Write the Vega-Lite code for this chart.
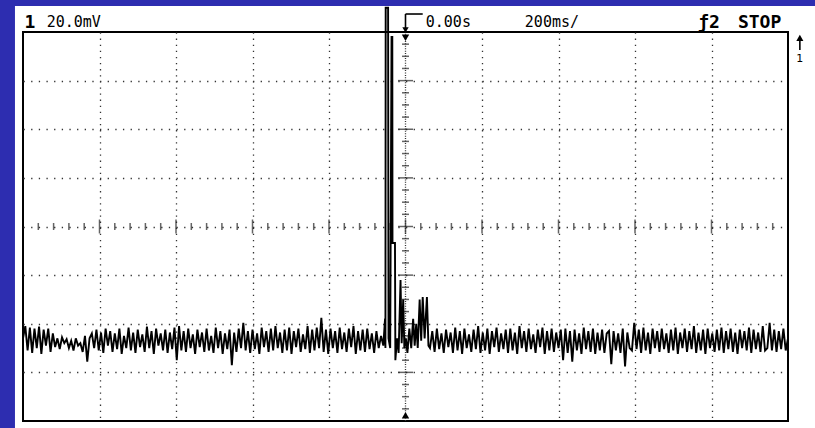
{
"$schema":"https://vega.github.io/schema/vega-lite/v6.json",
"width":765,"height":389,
"autosize":{"type":"none"},
"padding":{"left":23,"top":32,"right":27,"bottom":7},
"background":"white",
"config":{"view":{"stroke":"black","strokeWidth":2}},
"encoding":{
"x":{"field":"t","type":"quantitative","scale":{"domain":[-1000,1000],"nice":false,"zero":false},"axis":{"values":[-800,-600,-400,-200,200,400,600,800],"grid":true,"gridDash":[1.3,4.8],"gridColor":"#333","gridWidth":1.3,"labels":false,"ticks":false,"domain":false,"title":null}},
"y":{"field":"v","type":"quantitative","scale":{"domain":[-4,4],"nice":false,"zero":false},"axis":{"values":[-3,-2,-1,0,1,2,3],"grid":true,"gridDash":[1.3,6.35],"gridColor":"#333","gridWidth":1.3,"labels":false,"ticks":false,"domain":false,"title":null}}
},
"layer":[
{"data":{"values":[{"t":-1100,"t2":-1021,"v":-4.6,"v2":5.2},{"t":-1100,"t2":1100,"v":4.535,"v2":5.2}]},
 "mark":{"type":"rect","color":"#2d2db0","clip":false},
 "encoding":{"x2":{"field":"t2"},"y2":{"field":"v2"}}},
{"data":{"values":[{"t":0,"v":-4,"v2":4}]},
 "mark":{"type":"rule","color":"#333","strokeWidth":1.3,"strokeDash":[1,1.43]},
 "encoding":{"y2":{"field":"v2"}}},
{"data":{"values":[{"t":-960,"v":0},{"t":-920,"v":0},{"t":-880,"v":0},{"t":-840,"v":0},{"t":-760,"v":0},{"t":-720,"v":0},{"t":-680,"v":0},{"t":-640,"v":0},{"t":-560,"v":0},{"t":-520,"v":0},{"t":-480,"v":0},{"t":-440,"v":0},{"t":-360,"v":0},{"t":-320,"v":0},{"t":-280,"v":0},{"t":-240,"v":0},{"t":-160,"v":0},{"t":-120,"v":0},{"t":-80,"v":0},{"t":-40,"v":0},{"t":40,"v":0},{"t":80,"v":0},{"t":120,"v":0},{"t":160,"v":0},{"t":240,"v":0},{"t":280,"v":0},{"t":320,"v":0},{"t":360,"v":0},{"t":440,"v":0},{"t":480,"v":0},{"t":520,"v":0},{"t":560,"v":0},{"t":640,"v":0},{"t":680,"v":0},{"t":720,"v":0},{"t":760,"v":0},{"t":840,"v":0},{"t":880,"v":0},{"t":920,"v":0},{"t":960,"v":0}]},
 "mark":{"type":"tick","orient":"vertical","size":7,"thickness":1.5,"color":"#222"}},
{"data":{"values":[{"t":-800,"v":0},{"t":-600,"v":0},{"t":-400,"v":0},{"t":-200,"v":0},{"t":0,"v":0},{"t":200,"v":0},{"t":400,"v":0},{"t":600,"v":0},{"t":800,"v":0}]},
 "mark":{"type":"tick","orient":"vertical","size":14,"thickness":1.5,"color":"#222"}},
{"data":{"values":[{"t":0,"v":-3.75},{"t":0,"v":-3.5},{"t":0,"v":-3.25},{"t":0,"v":-2.75},{"t":0,"v":-2.5},{"t":0,"v":-2.25},{"t":0,"v":-1.75},{"t":0,"v":-1.5},{"t":0,"v":-1.25},{"t":0,"v":-0.75},{"t":0,"v":-0.5},{"t":0,"v":-0.25},{"t":0,"v":0.25},{"t":0,"v":0.5},{"t":0,"v":0.75},{"t":0,"v":1.25},{"t":0,"v":1.5},{"t":0,"v":1.75},{"t":0,"v":2.25},{"t":0,"v":2.5},{"t":0,"v":2.75},{"t":0,"v":3.25},{"t":0,"v":3.5},{"t":0,"v":3.75}]},
 "mark":{"type":"tick","orient":"horizontal","size":7,"thickness":1.5,"color":"#222"}},
{"data":{"values":[{"t":0,"v":-3},{"t":0,"v":-2},{"t":0,"v":-1},{"t":0,"v":0},{"t":0,"v":1},{"t":0,"v":2},{"t":0,"v":3}]},
 "mark":{"type":"tick","orient":"horizontal","size":15,"thickness":1.5,"color":"#222"}},
{"data":{"values":[{"t":0,"v":3.88}]},
 "mark":{"type":"point","shape":"triangle-down","filled":true,"size":55,"color":"black","opacity":1}},
{"data":{"values":[{"t":0,"v":-3.88}]},
 "mark":{"type":"point","shape":"triangle-up","filled":true,"size":55,"color":"black","opacity":1}},
{"data":{"values":[
{"t":-1000,"v":-2.30},{"t":-994,"v":-2.05},{"t":-988,"v":-2.55},{"t":-982,"v":-2.08},{"t":-976,"v":-2.60},{"t":-970,"v":-2.10},{"t":-964,"v":-2.50},{"t":-958,"v":-2.06},{"t":-952,"v":-2.62},{"t":-946,"v":-2.12},
{"t":-940,"v":-2.45},{"t":-934,"v":-2.10},{"t":-928,"v":-2.58},{"t":-922,"v":-2.20},{"t":-916,"v":-2.48},{"t":-910,"v":-2.30},{"t":-904,"v":-2.52},{"t":-898,"v":-2.28},{"t":-892,"v":-2.40},{"t":-886,"v":-2.32},
{"t":-880,"v":-2.50},{"t":-874,"v":-2.35},{"t":-868,"v":-2.55},{"t":-862,"v":-2.30},{"t":-856,"v":-2.45},{"t":-850,"v":-2.40},{"t":-844,"v":-2.58},{"t":-838,"v":-2.25},{"t":-832,"v":-2.78},{"t":-826,"v":-2.30},
{"t":-820,"v":-2.20},{"t":-814,"v":-2.50},{"t":-808,"v":-2.12},{"t":-802,"v":-2.55},{"t":-796,"v":-2.18},{"t":-790,"v":-2.60},{"t":-784,"v":-2.10},{"t":-778,"v":-2.45},{"t":-772,"v":-2.15},{"t":-766,"v":-2.58},
{"t":-760,"v":-2.20},{"t":-754,"v":-2.52},{"t":-748,"v":-2.10},{"t":-742,"v":-2.62},{"t":-736,"v":-2.25},{"t":-730,"v":-2.50},{"t":-724,"v":-2.08},{"t":-718,"v":-2.55},{"t":-712,"v":-2.18},{"t":-706,"v":-2.60},
{"t":-700,"v":-2.12},{"t":-694,"v":-2.48},{"t":-688,"v":-2.22},{"t":-682,"v":-2.58},{"t":-676,"v":-2.06},{"t":-670,"v":-2.50},{"t":-664,"v":-2.15},{"t":-658,"v":-2.62},{"t":-652,"v":-2.10},{"t":-646,"v":-2.45},
{"t":-640,"v":-2.20},{"t":-634,"v":-2.55},{"t":-628,"v":-2.12},{"t":-622,"v":-2.60},{"t":-616,"v":-2.18},{"t":-610,"v":-2.52},{"t":-604,"v":-2.08},{"t":-598,"v":-2.75},{"t":-592,"v":-2.05},{"t":-586,"v":-2.55},
{"t":-580,"v":-2.15},{"t":-574,"v":-2.58},{"t":-568,"v":-2.10},{"t":-562,"v":-2.50},{"t":-556,"v":-2.22},{"t":-550,"v":-2.62},{"t":-544,"v":-2.12},{"t":-538,"v":-2.48},{"t":-532,"v":-2.18},{"t":-526,"v":-2.58},
{"t":-520,"v":-2.10},{"t":-514,"v":-2.55},{"t":-508,"v":-2.25},{"t":-502,"v":-2.60},{"t":-496,"v":-2.08},{"t":-490,"v":-2.50},{"t":-484,"v":-2.15},{"t":-478,"v":-2.62},{"t":-472,"v":-2.20},{"t":-466,"v":-2.52},
{"t":-460,"v":-2.12},{"t":-454,"v":-2.85},{"t":-448,"v":-2.18},{"t":-442,"v":-2.58},{"t":-436,"v":-2.10},{"t":-430,"v":-2.50},{"t":-424,"v":-1.98},{"t":-418,"v":-2.55},{"t":-412,"v":-2.15},{"t":-406,"v":-2.60},
{"t":-400,"v":-2.12},{"t":-394,"v":-2.52},{"t":-388,"v":-2.20},{"t":-382,"v":-2.62},{"t":-376,"v":-2.08},{"t":-370,"v":-2.48},{"t":-364,"v":-2.15},{"t":-358,"v":-2.58},{"t":-352,"v":-2.10},{"t":-346,"v":-2.55},
{"t":-340,"v":-2.05},{"t":-334,"v":-2.50},{"t":-328,"v":-2.18},{"t":-322,"v":-2.60},{"t":-316,"v":-2.12},{"t":-310,"v":-2.55},{"t":-304,"v":-2.08},{"t":-298,"v":-2.62},{"t":-292,"v":-2.15},{"t":-286,"v":-2.48},
{"t":-280,"v":-2.10},{"t":-274,"v":-2.58},{"t":-268,"v":-2.22},{"t":-262,"v":-2.52},{"t":-256,"v":-2.05},{"t":-250,"v":-2.60},{"t":-244,"v":-2.12},{"t":-238,"v":-2.55},{"t":-232,"v":-2.08},{"t":-226,"v":-2.50},
{"t":-220,"v":-1.88},{"t":-214,"v":-2.58},{"t":-208,"v":-2.12},{"t":-202,"v":-2.62},{"t":-196,"v":-2.10},{"t":-190,"v":-2.50},{"t":-184,"v":-2.15},{"t":-178,"v":-2.60},{"t":-172,"v":-2.08},{"t":-166,"v":-2.52},
{"t":-160,"v":-2.18},{"t":-154,"v":-2.58},{"t":-148,"v":-2.10},{"t":-142,"v":-2.48},{"t":-136,"v":-2.05},{"t":-130,"v":-2.62},{"t":-124,"v":-2.15},{"t":-118,"v":-2.55},{"t":-112,"v":-2.12},{"t":-106,"v":-2.58},
{"t":-100,"v":-2.10},{"t":-94,"v":-2.52},{"t":-88,"v":-2.20},{"t":-82,"v":-2.60},{"t":-76,"v":-2.15},{"t":-70,"v":-2.50},{"t":-64,"v":-2.25},{"t":-58,"v":-2.45},
{"t":-53.5,"v":-1.9},{"t":-52.5,"v":-2.5},{"t":-51.8,"v":4.5},{"t":-45.5,"v":4.5},{"t":-44.4,"v":-2.3},{"t":-40,"v":-2.5},{"t":-36.5,"v":3.9},{"t":-34.5,"v":3.9},{"t":-34,"v":-0.34},{"t":-27.5,"v":-0.34},{"t":-26.5,"v":-2.75},{"t":-22,"v":-2.3},{"t":-18,"v":-2.6},{"t":-13,"v":-1.1},{"t":-10,"v":-2.4},{"t":-6,"v":-1.5},{"t":-3,"v":-2.5},{"t":1,"v":-2.3},{"t":5,"v":-2.6},{"t":10,"v":-2.1},{"t":15,"v":-2.5},{"t":20,"v":-1.9},{"t":24,"v":-2.45},{"t":28,"v":-2.0},{"t":32,"v":-2.5},{"t":37,"v":-1.5},{"t":41,"v":-2.35},{"t":45,"v":-1.45},{"t":50,"v":-2.3},{"t":56,"v":-1.45},{"t":60,"v":-2.45},
{"t":64,"v":-2.50},{"t":70,"v":-2.15},{"t":76,"v":-2.58},{"t":82,"v":-2.10},{"t":88,"v":-2.52},{"t":94,"v":-2.20},{"t":100,"v":-2.60},{"t":106,"v":-2.12},{"t":112,"v":-2.48},{"t":118,"v":-2.18},
{"t":124,"v":-2.60},{"t":130,"v":-2.08},{"t":136,"v":-2.55},{"t":142,"v":-2.15},{"t":148,"v":-2.62},{"t":154,"v":-2.10},{"t":160,"v":-2.50},{"t":166,"v":-2.22},{"t":172,"v":-2.58},{"t":178,"v":-2.12},
{"t":184,"v":-2.52},{"t":190,"v":-2.05},{"t":196,"v":-2.60},{"t":202,"v":-2.18},{"t":208,"v":-2.55},{"t":214,"v":-2.10},{"t":220,"v":-2.62},{"t":226,"v":-2.15},{"t":232,"v":-2.48},{"t":238,"v":-2.08},
{"t":244,"v":-2.58},{"t":250,"v":-2.20},{"t":256,"v":-2.52},{"t":262,"v":-2.12},{"t":268,"v":-2.60},{"t":274,"v":-2.10},{"t":280,"v":-2.55},{"t":286,"v":-2.18},{"t":292,"v":-2.62},{"t":298,"v":-2.05},
{"t":304,"v":-2.50},{"t":310,"v":-2.15},{"t":316,"v":-2.58},{"t":322,"v":-2.10},{"t":328,"v":-2.52},{"t":334,"v":-2.22},{"t":340,"v":-2.60},{"t":346,"v":-2.12},{"t":352,"v":-2.48},{"t":358,"v":-2.08},
{"t":364,"v":-2.62},{"t":370,"v":-2.15},{"t":376,"v":-2.55},{"t":382,"v":-2.10},{"t":388,"v":-2.58},{"t":394,"v":-2.18},{"t":400,"v":-2.50},{"t":406,"v":-2.12},{"t":412,"v":-2.75},{"t":418,"v":-2.10},
{"t":424,"v":-2.60},{"t":430,"v":-2.15},{"t":436,"v":-2.78},{"t":442,"v":-2.12},{"t":448,"v":-2.55},{"t":454,"v":-2.20},{"t":460,"v":-2.62},{"t":466,"v":-2.08},{"t":472,"v":-2.52},{"t":478,"v":-2.15},
{"t":484,"v":-2.58},{"t":490,"v":-2.10},{"t":496,"v":-2.62},{"t":502,"v":-2.18},{"t":508,"v":-2.55},{"t":514,"v":-2.12},{"t":520,"v":-2.60},{"t":526,"v":-2.20},{"t":532,"v":-2.15},{"t":538,"v":-2.83},
{"t":544,"v":-2.15},{"t":550,"v":-2.55},{"t":556,"v":-2.20},{"t":562,"v":-2.60},{"t":568,"v":-2.10},{"t":574,"v":-2.88},{"t":580,"v":-2.18},{"t":586,"v":-2.50},{"t":592,"v":-2.55},{"t":598,"v":-1.98},
{"t":604,"v":-2.52},{"t":610,"v":-2.12},{"t":616,"v":-2.60},{"t":622,"v":-2.08},{"t":628,"v":-2.55},{"t":634,"v":-2.18},{"t":640,"v":-2.62},{"t":646,"v":-2.10},{"t":652,"v":-2.50},{"t":658,"v":-2.15},
{"t":664,"v":-2.58},{"t":670,"v":-2.10},{"t":676,"v":-2.52},{"t":682,"v":-2.20},{"t":688,"v":-2.60},{"t":694,"v":-2.12},{"t":700,"v":-2.55},{"t":706,"v":-2.08},{"t":712,"v":-2.62},{"t":718,"v":-2.18},
{"t":724,"v":-2.50},{"t":730,"v":-2.10},{"t":736,"v":-2.58},{"t":742,"v":-2.15},{"t":748,"v":-2.52},{"t":754,"v":-2.05},{"t":760,"v":-2.60},{"t":766,"v":-2.18},{"t":772,"v":-2.55},{"t":778,"v":-2.12},
{"t":784,"v":-2.62},{"t":790,"v":-2.10},{"t":796,"v":-2.50},{"t":802,"v":-2.20},{"t":808,"v":-2.58},{"t":814,"v":-2.12},{"t":820,"v":-2.55},{"t":826,"v":-2.08},{"t":832,"v":-2.60},{"t":838,"v":-2.15},
{"t":844,"v":-2.52},{"t":850,"v":-2.10},{"t":856,"v":-2.58},{"t":862,"v":-2.18},{"t":868,"v":-2.62},{"t":874,"v":-2.12},{"t":880,"v":-2.50},{"t":886,"v":-2.15},{"t":892,"v":-2.55},{"t":898,"v":-2.08},
{"t":904,"v":-2.60},{"t":910,"v":-2.12},{"t":916,"v":-2.52},{"t":922,"v":-2.18},{"t":928,"v":-2.58},{"t":934,"v":-2.05},{"t":940,"v":-2.55},{"t":946,"v":-2.50},{"t":952,"v":-1.98},{"t":958,"v":-2.55},
{"t":964,"v":-2.12},{"t":970,"v":-2.58},{"t":976,"v":-2.15},{"t":982,"v":-2.52},{"t":988,"v":-2.10},{"t":994,"v":-2.55},{"t":1000,"v":-2.30}
]},
 "mark":{"type":"line","color":"black","strokeWidth":1.9,"clip":false}},
{"data":{"values":[{"t":0,"t2":0,"v":4.37,"v2":4.08},{"t":0,"t2":45,"v":4.37,"v2":4.37},{"t":1031,"t2":1031,"v":3.88,"v2":3.63}]},
 "mark":{"type":"rule","color":"black","strokeWidth":1.6,"clip":false},
 "encoding":{"x2":{"field":"t2"},"y2":{"field":"v2"}}},
{"data":{"values":[{"t":0,"v":4.04}]},
 "mark":{"type":"point","shape":"triangle-down","filled":true,"size":40,"color":"black","opacity":1,"clip":false}},
{"data":{"values":[{"t":1031,"v":3.88}]},
 "mark":{"type":"point","shape":"triangle-up","filled":true,"size":50,"color":"black","opacity":1,"clip":false}},
{"data":{"values":[{"t":-938,"v":4.1,"label":"20.0mV"},{"t":53,"v":4.1,"label":"0.00s"},{"t":312,"v":4.1,"label":"200ms/"}]},
 "mark":{"type":"text","align":"left","baseline":"alphabetic","font":"DejaVu Sans Mono","fontSize":15,"color":"black","clip":false},
 "encoding":{"text":{"field":"label"}}},
{"data":{"values":[{"t":-996,"v":4.08,"label":"1"},{"t":765,"v":4.08,"label":"ƒ2"},{"t":869,"v":4.08,"label":"STOP"}]},
 "mark":{"type":"text","align":"left","baseline":"alphabetic","font":"DejaVu Sans Mono","fontSize":18,"fontWeight":"bold","color":"black","clip":false},
 "encoding":{"text":{"field":"label"}}},
{"data":{"values":[{"t":1031,"v":3.38,"label":"1"}]},
 "mark":{"type":"text","align":"center","baseline":"alphabetic","font":"DejaVu Sans","fontSize":11,"color":"black","clip":false},
 "encoding":{"text":{"field":"label"}}}
]
}
